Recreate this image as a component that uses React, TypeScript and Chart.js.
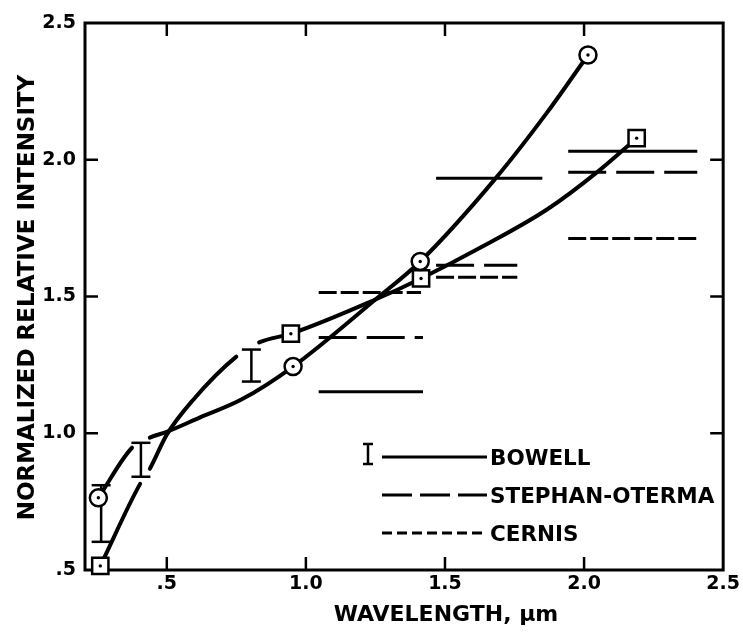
import React, { useEffect, useRef } from "react";
import { Chart, registerables } from "chart.js";

Chart.register(...registerables);

// ---- axis ticks ----
const xTickValues = [0.5, 1.0, 1.5, 2.0, 2.5];
const xTickLabels = [".5", "1.0", "1.5", "2.0", "2.5"];
const yTickValues = [0.5, 1.0, 1.5, 2.0, 2.5];
const yTickLabels = [".5", "1.0", "1.5", "2.0", "2.5"];
const xTitle = "WAVELENGTH, \u03bcm";
const yTitle = "NORMALIZED RELATIVE INTENSITY";

// ---- measured points (markers) ----
const circleMarkerX = [0.254, 0.954, 1.411, 2.014];
const circleMarkerY = [0.764, 1.244, 1.628, 2.383];
const squareMarkerX = [0.261, 0.946, 1.414, 2.189];
const squareMarkerY = [0.515, 1.364, 1.566, 2.079];

// ---- fitted curves ----
const circleCurveX = [0.254, 0.375, 0.439, 0.5, 0.618, 0.768, 0.954, 1.25, 1.411, 1.682, 1.868, 2.014];
const circleCurveY = [0.764, 0.947, 0.984, 1.005, 1.057, 1.123, 1.244, 1.489, 1.628, 1.932, 2.174, 2.383];
const squareCurveX = [0.261, 0.404, 0.439, 0.5, 0.593, 0.75, 0.832, 0.946, 1.25, 1.414, 1.643, 1.868, 2.046, 2.189];
const squareCurveY = [0.515, 0.815, 0.87, 0.995, 1.12, 1.28, 1.332, 1.364, 1.489, 1.566, 1.687, 1.819, 1.954, 2.079];

// ---- Bowell error bars ----
const bowellBarX = [0.264, 0.407, 0.804];
const bowellBarLow = [0.603, 0.841, 1.189];
const bowellBarHigh = [0.81, 0.965, 1.306];

// ---- band measurements (horizontal segments) ----
const bowellStart = [1.046, 1.468, 1.943];
const bowellEnd = [1.421, 1.85, 2.407];
const bowellY = [1.152, 1.932, 2.031];

const stephanStart = [1.046, 1.468, 1.943];
const stephanEnd = [1.421, 1.76, 2.407];
const stephanY = [1.35, 1.614, 1.954];

const cernisStart = [1.046, 1.468, 1.943];
const cernisEnd = [1.414, 1.76, 2.407];
const cernisY = [1.515, 1.57, 1.712];

const seriesNames = ["BOWELL", "STEPHAN-OTERMA", "CERNIS"];

const BLACK = "#000";
const TICK_FONT = { family: "'DejaVu Sans', sans-serif", size: 19, weight: "bold" as const };
const TITLE_FONT_X = "bold 22px 'DejaVu Sans', sans-serif";
const TITLE_FONT_Y = "bold 23px 'DejaVu Sans', sans-serif";
const LEGEND_FONT = "bold 21.5px 'DejaVu Sans', sans-serif";

const pts = (xs: number[], ys: number[]) => xs.map((x, i) => ({ x, y: ys[i] }));

function crossesBar(ctx: any): boolean {
  const x0 = ctx.p0.parsed.x, x1 = ctx.p1.parsed.x;
  const y0 = ctx.p0.parsed.y, y1 = ctx.p1.parsed.y;
  if (x1 - x0 >= 0.1) return false;
  return bowellBarX.some((bx, i) => {
    if (!(bx > x0 && bx < x1)) return false;
    const y = y0 + ((y1 - y0) * (bx - x0)) / (x1 - x0);
    return y >= bowellBarLow[i] - 0.03 && y <= bowellBarHigh[i] + 0.03;
  });
}

function bandDatasets(starts: number[], ends: number[], ys: number[], dash: number[], label: string) {
  return starts.map((s, i) => ({
    type: "line" as const,
    label,
    data: [{ x: s, y: ys[i] }, { x: ends[i], y: ys[i] }],
    borderColor: BLACK,
    borderWidth: 3,
    borderDash: dash,
    pointRadius: 0,
    fill: false,
    tension: 0,
    order: 4,
  }));
}

const framePlugin = {
  id: "frameAndBars",
  beforeDatasetsDraw(chart: any) {
    const { ctx, chartArea } = chart;
    const { left, right, top, bottom } = chartArea;
    const xs = chart.scales.x;
    const ys = chart.scales.y;
    const line = (a: number, b: number, c: number, d: number) => {
      ctx.beginPath();
      ctx.moveTo(a, b);
      ctx.lineTo(c, d);
      ctx.stroke();
    };
    ctx.save();
    ctx.strokeStyle = BLACK;
    ctx.lineWidth = 3;
    ctx.strokeRect(left, top, right - left, bottom - top);
    const tl = 13;
    ctx.lineWidth = 2.5;
    xTickValues.forEach((v) => {
      const px = xs.getPixelForValue(v);
      if (px > left + 2 && px < right - 2) {
        line(px, bottom, px, bottom - tl);
        line(px, top, px, top + tl);
      }
    });
    yTickValues.forEach((v) => {
      const py = ys.getPixelForValue(v);
      if (py > top + 2 && py < bottom - 2) {
        line(left, py, left + tl, py);
        line(right, py, right - tl, py);
      }
    });
    // Bowell error bars
    ctx.lineWidth = 2.5;
    bowellBarX.forEach((bx, i) => {
      const px = xs.getPixelForValue(bx);
      const p0 = ys.getPixelForValue(bowellBarLow[i]);
      const p1 = ys.getPixelForValue(bowellBarHigh[i]);
      line(px, p0, px, p1);
      line(px - 9.5, p0, px + 9.5, p0);
      line(px - 9.5, p1, px + 9.5, p1);
    });
    ctx.restore();
  },
  afterDraw(chart: any) {
    const { ctx, chartArea } = chart;
    const { left, top, bottom } = chartArea;
    ctx.save();
    ctx.fillStyle = BLACK;
    ctx.strokeStyle = BLACK;
    // axis titles
    ctx.font = TITLE_FONT_X;
    ctx.textAlign = "center";
    ctx.textBaseline = "middle";
    ctx.fillText(xTitle, left + 361, 615);
    ctx.save();
    ctx.translate(28, (top + bottom) / 2 + 1);
    ctx.rotate(-Math.PI / 2);
    ctx.font = TITLE_FONT_Y;
    ctx.fillText(yTitle, 0, 0);
    ctx.restore();

    // legend
    const lx0 = left + 297;
    const lx1 = left + 402;
    const tx = left + 405;
    const rows = [top + 434, top + 472, top + 510];
    const dashes = [[], [30, 8], [10, 5]];
    ctx.lineWidth = 3;
    rows.forEach((ry, i) => {
      ctx.setLineDash(dashes[i]);
      ctx.beginPath();
      ctx.moveTo(lx0, ry);
      ctx.lineTo(lx1, ry);
      ctx.stroke();
    });
    ctx.setLineDash([]);
    // error-bar symbol before BOWELL
    const ix = left + 283;
    ctx.lineWidth = 2.5;
    ctx.beginPath();
    ctx.moveTo(ix, rows[0] - 13);
    ctx.lineTo(ix, rows[0] + 7);
    ctx.moveTo(ix - 5, rows[0] - 13);
    ctx.lineTo(ix + 5, rows[0] - 13);
    ctx.moveTo(ix - 5, rows[0] + 7);
    ctx.lineTo(ix + 5, rows[0] + 7);
    ctx.stroke();
    ctx.font = LEGEND_FONT;
    ctx.textAlign = "left";
    ctx.textBaseline = "middle";
    seriesNames.forEach((n, i) => ctx.fillText(n, tx, rows[i] + 2));
    ctx.restore();
  },
};

export default function App() {
  const ref = useRef<HTMLCanvasElement | null>(null);

  useEffect(() => {
    if (!ref.current) return;
    const datasets: any[] = [
      {
        type: "line",
        label: "circle dots",
        data: pts(circleMarkerX, circleMarkerY),
        showLine: false,
        pointRadius: 1.7,
        pointBackgroundColor: BLACK,
        pointBorderWidth: 0,
        order: 0,
      },
      {
        type: "line",
        label: "square dots",
        data: pts(squareMarkerX, squareMarkerY),
        showLine: false,
        pointRadius: 1.7,
        pointBackgroundColor: BLACK,
        pointBorderWidth: 0,
        order: 0,
      },
      {
        type: "line",
        label: "circles",
        data: pts(circleMarkerX, circleMarkerY),
        showLine: false,
        pointStyle: "circle",
        pointRadius: 8.5,
        pointBackgroundColor: "#fff",
        pointBorderColor: BLACK,
        pointBorderWidth: 2.5,
        order: 1,
      },
      {
        type: "line",
        label: "squares",
        data: pts(squareMarkerX, squareMarkerY),
        showLine: false,
        pointStyle: "rect",
        pointRadius: 11.5,
        pointBackgroundColor: "#fff",
        pointBorderColor: BLACK,
        pointBorderWidth: 2.5,
        order: 1,
      },
      {
        type: "line",
        label: "circle fit",
        data: pts(circleCurveX, circleCurveY),
        borderColor: BLACK,
        borderWidth: 4,
        borderCapStyle: "round",
        pointRadius: 0,
        cubicInterpolationMode: "monotone",
        fill: false,
        order: 3,
        segment: { borderColor: (c: any) => (crossesBar(c) ? "rgba(0,0,0,0)" : BLACK) },
      },
      {
        type: "line",
        label: "square fit",
        data: pts(squareCurveX, squareCurveY),
        borderColor: BLACK,
        borderWidth: 4,
        borderCapStyle: "round",
        pointRadius: 0,
        cubicInterpolationMode: "monotone",
        fill: false,
        order: 3,
        segment: { borderColor: (c: any) => (crossesBar(c) ? "rgba(0,0,0,0)" : BLACK) },
      },
      ...bandDatasets(bowellStart, bowellEnd, bowellY, [], seriesNames[0]),
      ...bandDatasets(stephanStart, stephanEnd, stephanY, [38, 10], seriesNames[1]),
      ...bandDatasets(cernisStart, cernisEnd, cernisY, [18, 4], seriesNames[2]),
    ];

    const chart = new Chart(ref.current, {
      type: "line",
      data: { datasets },
      plugins: [framePlugin],
      options: {
        animation: false,
        responsive: false,
        devicePixelRatio: 1,
        events: [],
        clip: false as any,
        layout: { padding: { left: 0, right: 18, top: 23, bottom: 0 } },
        plugins: { legend: { display: false }, tooltip: { enabled: false } },
        scales: {
          x: {
            type: "linear",
            min: 0.206,
            max: 2.5,
            afterBuildTicks: (s: any) => {
              s.ticks = xTickValues.map((v) => ({ value: v }));
            },
            afterFit: (s: any) => {
              s.height = 63;
            },
            grid: { display: false, drawTicks: false },
            border: { display: false },
            ticks: {
              color: BLACK,
              font: TICK_FONT,
              padding: 3,
              maxRotation: 0,
              autoSkip: false,
              callback: (v: any) => xTickLabels[xTickValues.indexOf(Number(v))],
            },
          },
          y: {
            type: "linear",
            min: 0.5,
            max: 2.5,
            afterBuildTicks: (s: any) => {
              s.ticks = yTickValues.map((v) => ({ value: v }));
            },
            afterFit: (s: any) => {
              s.width = 85;
            },
            grid: { display: false, drawTicks: false },
            border: { display: false },
            ticks: {
              color: BLACK,
              font: TICK_FONT,
              padding: 9,
              autoSkip: false,
              callback: (v: any) => yTickLabels[yTickValues.indexOf(Number(v))],
            },
          },
        },
      },
    });
    return () => chart.destroy();
  }, []);

  return (
    <div style={{ position: "absolute", left: 0, top: 0, width: 743, height: 633, background: "#fff" }}>
      <canvas ref={ref} width={743} height={633} style={{ width: 743, height: 633, display: "block" }} />
    </div>
  );
}
